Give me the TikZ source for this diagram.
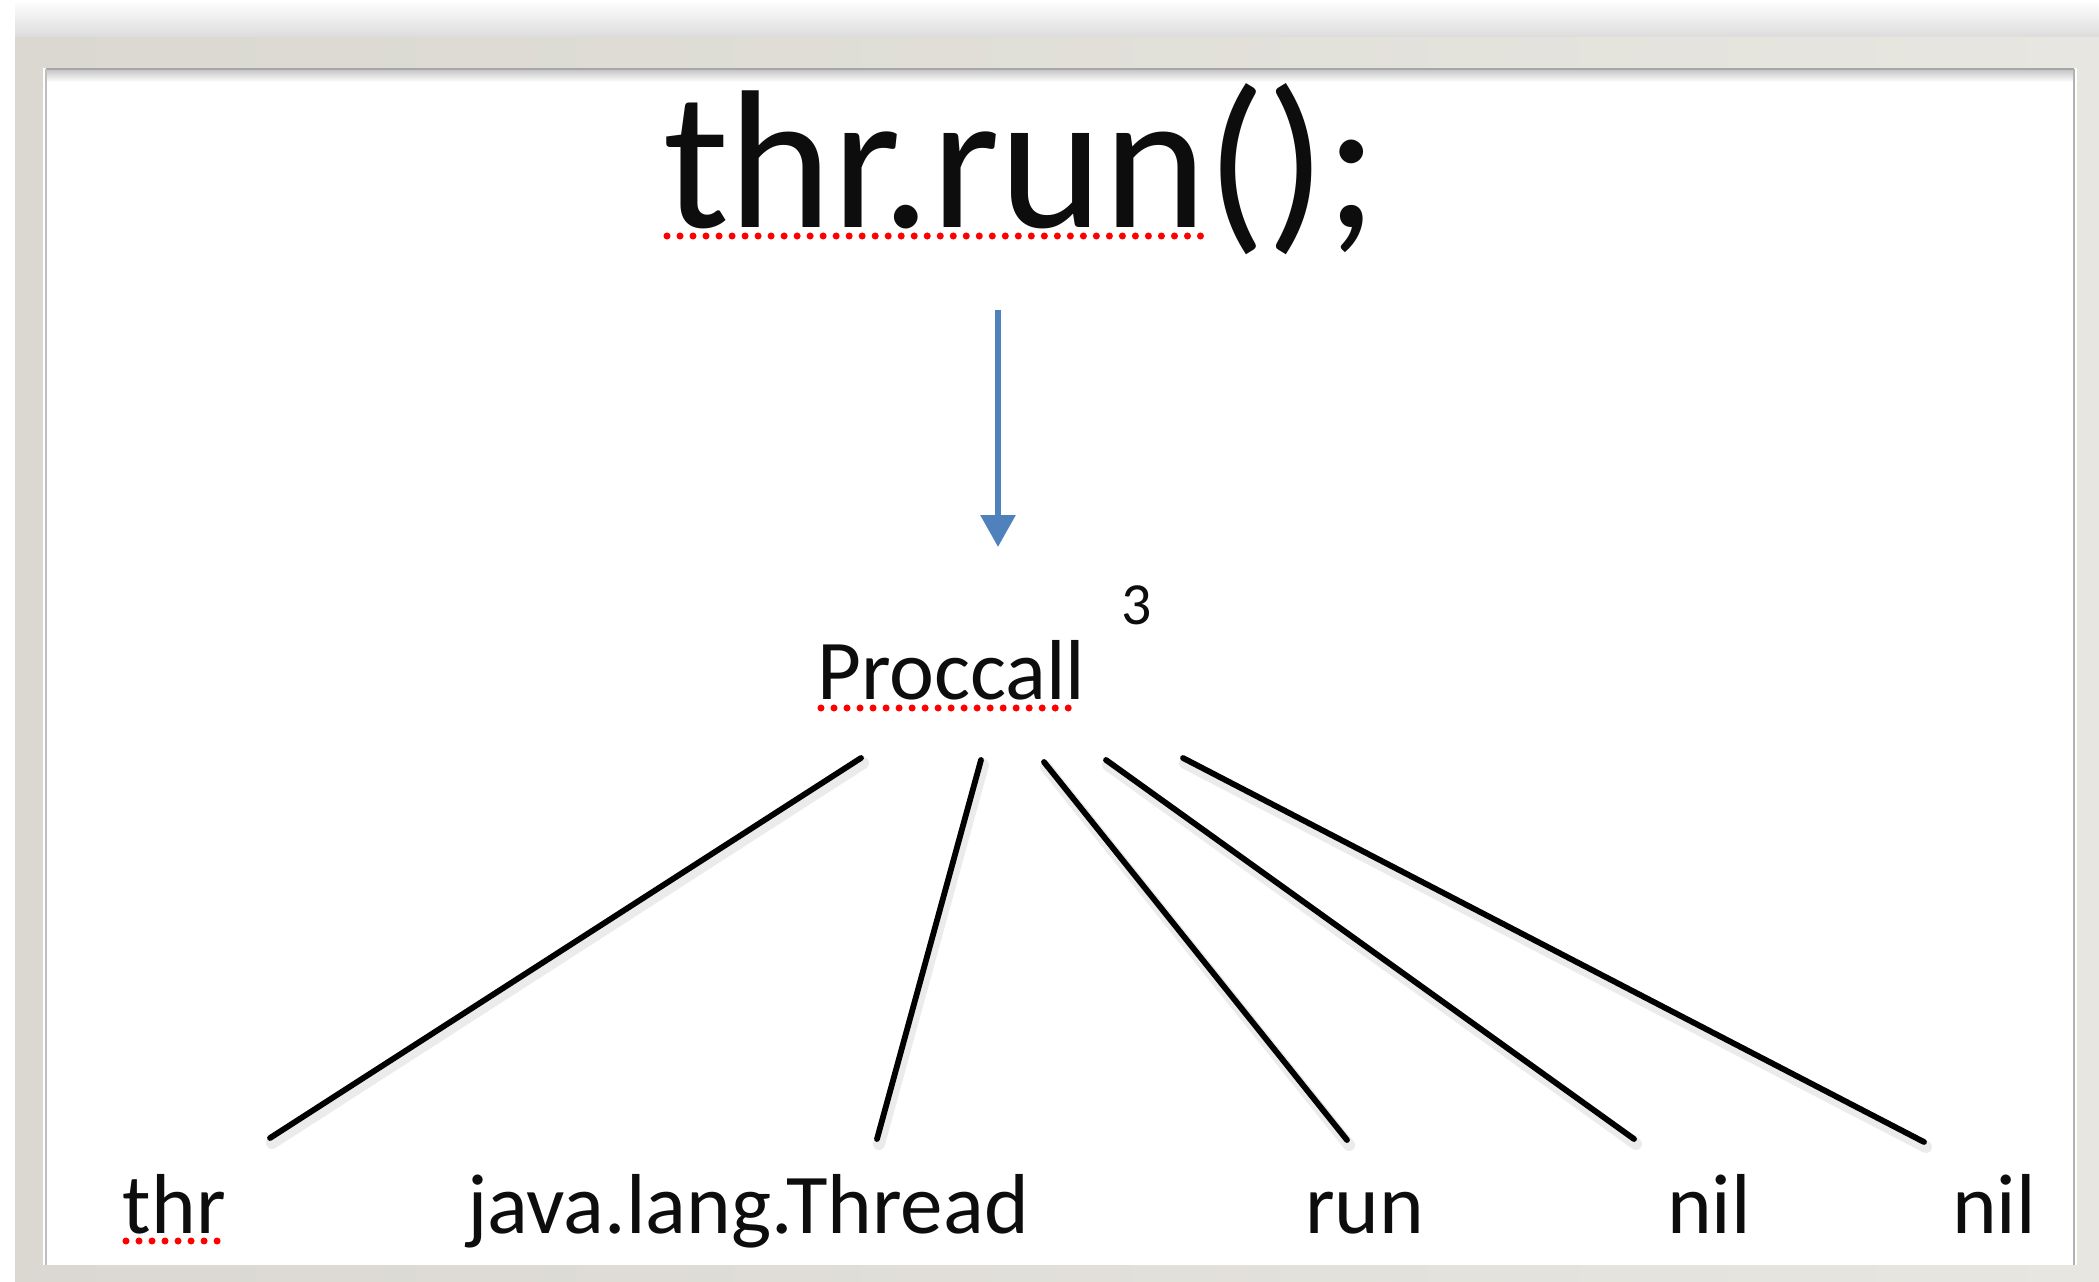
\documentclass[tikz,border=0pt]{standalone}
\usepackage{fontspec}
\setmainfont{Carlito}
\usetikzlibrary{arrows.meta}
\definecolor{framegrayA}{HTML}{DAD8D0}
\definecolor{framegrayB}{HTML}{E7E6E0}
\definecolor{inkblack}{HTML}{0D0D0D}
\definecolor{arrowblue}{HTML}{4F81BD}
\tikzset{
  word/.style={inner sep=0pt, outer sep=0pt, text=inkblack, anchor=base west},
  bigword/.style={word, font=\fontsize{56}{62}\selectfont},
  labelword/.style={word, font=\fontsize{24.2}{29}\selectfont},
  supword/.style={word, font=\fontsize{17}{20}\selectfont},
  branch/.style={line width=1.65pt, black, line cap=round},
  branchshadow/.style={line width=3.4pt, black!8, line cap=round},
  spellmark/.style={red, line width=2pt, line cap=round, dash pattern=on 0pt off 3.7pt},
}
\begin{document}
\begin{tikzpicture}[x=0.01cm, y=-0.01cm]
  \useasboundingbox (0,0) rectangle (2099,1282);
  % page background and soft shadow above the frame
  \fill[white] (0,0) rectangle (2099,1282);
  \shade[top color=white, bottom color=black!14] (15,0) rectangle (2099,38);
  % picture frame
  \shade[left color=framegrayA, right color=framegrayB] (15,38) rectangle (2099,1282);
  \fill[white] (43,68) rectangle (2077,1265);
  \shade[top color=black!22, bottom color=white] (46,70) rectangle (2074,82);
  \draw[black!35, line width=0.6pt] (46,69) -- (2074,69);
  \draw[black!25, line width=0.6pt] (46,69) -- (46,1265);
  \draw[black!30, line width=0.6pt] (2074,69) -- (2074,1265);

  % statement and its parse node
  \node[bigword] (stmt) at (663,228) {thr.run();};
  \draw[spellmark] (667,236) -- (1210,236);

  \coordinate (arrowtop) at (998,310);
  \coordinate (arrowtip) at (998,547);
  \draw[arrowblue, line width=1.7pt, -{Triangle[width=34*0.01cm*28.45/1cm, length=32*0.01cm*28.45/1cm]}] (arrowtop) -- (arrowtip);

  \node[labelword] (proc) at (817,699) {Proccall};
  \draw[spellmark] (821,708) -- (1080,708);
  \node[supword] (count) at (1121,624) {3};

  % children
  \node[labelword] (cthr) at (123,1233) {thr};
  \draw[spellmark] (126,1241) -- (221,1241);
  \node[labelword] (cjava) at (467,1233) {java.lang.Thread};
  \node[labelword] (crun) at (1305,1233) {run};
  \node[labelword] (cnilA) at (1667,1233) {nil};
  \node[labelword] (cnilB) at (1952,1233) {nil};

  % branch end points
  \coordinate (s1) at (861,758);  \coordinate (e1) at (270,1138);
  \coordinate (s2) at (981,760);  \coordinate (e2) at (877,1139);
  \coordinate (s3) at (1044,762); \coordinate (e3) at (1347,1140);
  \coordinate (s4) at (1106,760); \coordinate (e4) at (1634,1139);
  \coordinate (s5) at (1183,758); \coordinate (e5) at (1924,1142);

  \foreach \i in {1,...,5}{
    \draw[branchshadow] ([shift={(2,5)}]s\i) -- ([shift={(2,5)}]e\i);
  }
  \foreach \i in {1,...,5}{
    \draw[branch] (s\i) -- (e\i);
  }
\end{tikzpicture}
\end{document}
